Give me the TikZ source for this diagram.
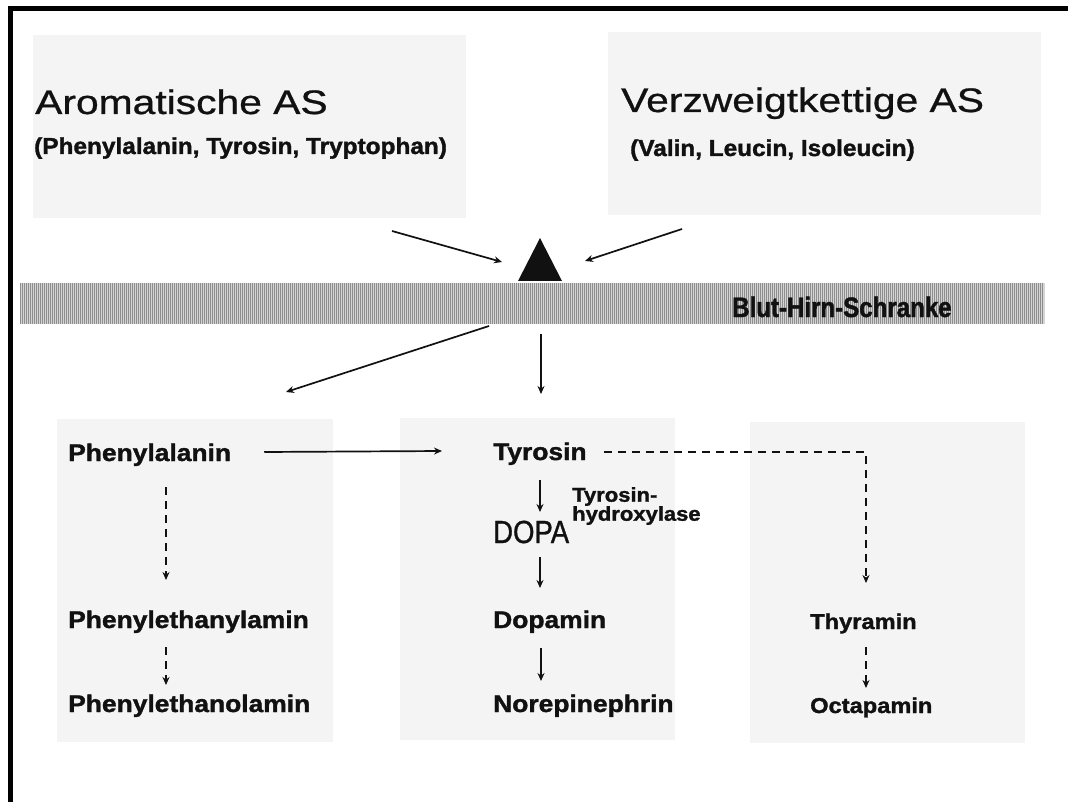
\documentclass[tikz,border=0pt]{standalone}
\usepackage{fontspec}
\setmainfont{Liberation Sans}
\newfontfamily\headfont[FakeStretch=1.2, FakeBold=0.8]{Liberation Sans}
\newfontfamily\listfont[FakeStretch=1.06, BoldFeatures={FakeBold=1.5}]{Liberation Sans}
\newfontfamily\stofffont[FakeStretch=1.1, BoldFeatures={FakeBold=1.5}]{Liberation Sans}
\newfontfamily\schmalfont[FakeStretch=0.86, FakeBold=0.9, BoldFeatures={FakeBold=1.5}]{Liberation Sans}
\usetikzlibrary{positioning,arrows.meta,calc}
\definecolor{panelgray}{HTML}{F4F4F4}
\definecolor{stripdark}{HTML}{8E8E8E}
\definecolor{striplight}{HTML}{D4D4D4}
\definecolor{ink}{HTML}{111111}

\begin{document}
\begin{tikzpicture}[
  x=1pt, y=-1pt,
  panel/.style={fill=panelgray, inner sep=0pt, anchor=north west},
  head/.style={anchor=base west, inner sep=0pt, text=ink, font=\headfont\fontsize{34}{40}\selectfont},
  sub/.style={anchor=base west, inner sep=0pt, text=ink, font=\listfont\bfseries\fontsize{23}{27}\selectfont},
  stoff/.style={anchor=base west, inner sep=0pt, text=ink, font=\stofffont\bfseries\fontsize{24}{28}\selectfont},
  stoffs/.style={stoff, font=\stofffont\bfseries\fontsize{21.5}{25}\selectfont},
  enzym/.style={anchor=north west, inner sep=0pt, align=left, text=ink, font=\stofffont\bfseries\fontsize{20}{19}\selectfont},
  arr/.style={-{Stealth[length=8pt,width=7pt]}, line width=1.7pt, draw=ink},
  darr/.style={arr, dash pattern=on 8pt off 6pt}
]
  \useasboundingbox (0,0) rectangle (1068,802);
  \fill[white] (0,0) rectangle (1068,802);
  % frame, only top and left
  \fill[black] (8,6) rectangle (1068,11);
  \fill[black] (8,6) rectangle (13,802);

  % source panels
  \node[panel, minimum width=433pt, minimum height=183pt] (boxaro) at (33,35) {};
  \node[panel, minimum width=433pt, minimum height=183pt] (boxver) at (608,32) {};
  \node[head] (aro) at (35,114) {Aromatische AS};
  \node[sub] (aroliste) at (34,154) {(Phenylalanin, Tyrosin, Tryptophan)};
  \node[head] (ver) at (621,112) {Verzweigtkettige AS};
  \node[sub] (verliste) at (630,156) {(Valin, Leucin, Isoleucin)};

  % barrier
  \fill[striplight] (20,283) rectangle (1045,324);
  \foreach \x in {20,22,...,1043}
    \draw[stripdark, line width=0.9pt] (\x+0.5,283) -- (\x+0.5,324);
  \node[anchor=base west, inner sep=0pt, text=ink,
        font=\schmalfont\bfseries\fontsize{28}{32}\selectfont] (bhs) at (732,317) {Blut-Hirn-Schranke};
  \fill[ink] (518,281) -- (540,238) -- (562,281) -- cycle;

  \coordinate (aroaus) at (392,231);
  \coordinate (veraus) at (682,229);
  \coordinate (triL) at (502,262);
  \coordinate (triR) at (585,261);
  \coordinate (bhsL) at (489,326);
  \coordinate (bhsM) at (541,334);
  \coordinate (zielL) at (286,392);
  \coordinate (zielM) at (541,394);
  \draw[arr] (aroaus) -- (triL);
  \draw[arr] (veraus) -- (triR);
  \draw[arr] (bhsL) -- (zielL);
  \draw[arr] (bhsM) -- (zielM);

  % target panels
  \node[panel, minimum width=276pt, minimum height=323pt] (boxl) at (57,419) {};
  \node[panel, minimum width=275pt, minimum height=322pt] (boxm) at (400,418) {};
  \node[panel, minimum width=275pt, minimum height=321pt] (boxr) at (750,422) {};

  \node[stoff] (phe) at (68,461) {Phenylalanin};
  \node[stoff] (pea) at (68,628) {Phenylethanylamin};
  \node[stoff] (peo) at (68,712) {Phenylethanolamin};
  \node[stoff] (tyr) at (493,460) {Tyrosin};
  \node[anchor=base west, inner sep=0pt, text=ink,
        font=\schmalfont\fontsize{32}{36}\selectfont] (dopa) at (493,543) {DOPA};
  \node[enzym] (th) at (572,487) {Tyrosin-\\hydroxylase};
  \node[stoff] (dopamin) at (493,628) {Dopamin};
  \node[stoff] (norepi) at (493,712) {Norepinephrin};
  \node[stoffs] (thy) at (810,629) {Thyramin};
  \node[stoffs] (octa) at (810,713) {Octapamin};

  \draw[arr] ([xshift=33pt,yshift=9pt]phe.base east) -- ([xshift=-51pt,yshift=9pt]tyr.base west);
  \draw[darr] ([xshift=98pt,yshift=-26pt]phe.base west) -- ([xshift=98pt,yshift=48pt]pea.base west);
  \draw[darr] ([xshift=98pt,yshift=-19pt]pea.base west) -- ([xshift=98pt,yshift=27pt]peo.base west);
  \draw[arr] ([xshift=47pt,yshift=-20pt]tyr.base west) -- ([xshift=47pt,yshift=31pt]dopa.base west);
  \draw[arr] ([xshift=47pt,yshift=-14pt]dopa.base west) -- ([xshift=47pt,yshift=40pt]dopamin.base west);
  \draw[arr] ([xshift=48pt,yshift=-20pt]dopamin.base west) -- ([xshift=48pt,yshift=31pt]norepi.base west);
  \draw[darr] ([xshift=17pt,yshift=8pt]tyr.base east) -| ([xshift=56pt,yshift=46pt]thy.base west);
  \draw[darr] ([xshift=56pt,yshift=-18pt]thy.base west) -- ([xshift=56pt,yshift=25pt]octa.base west);
\end{tikzpicture}
\end{document}
